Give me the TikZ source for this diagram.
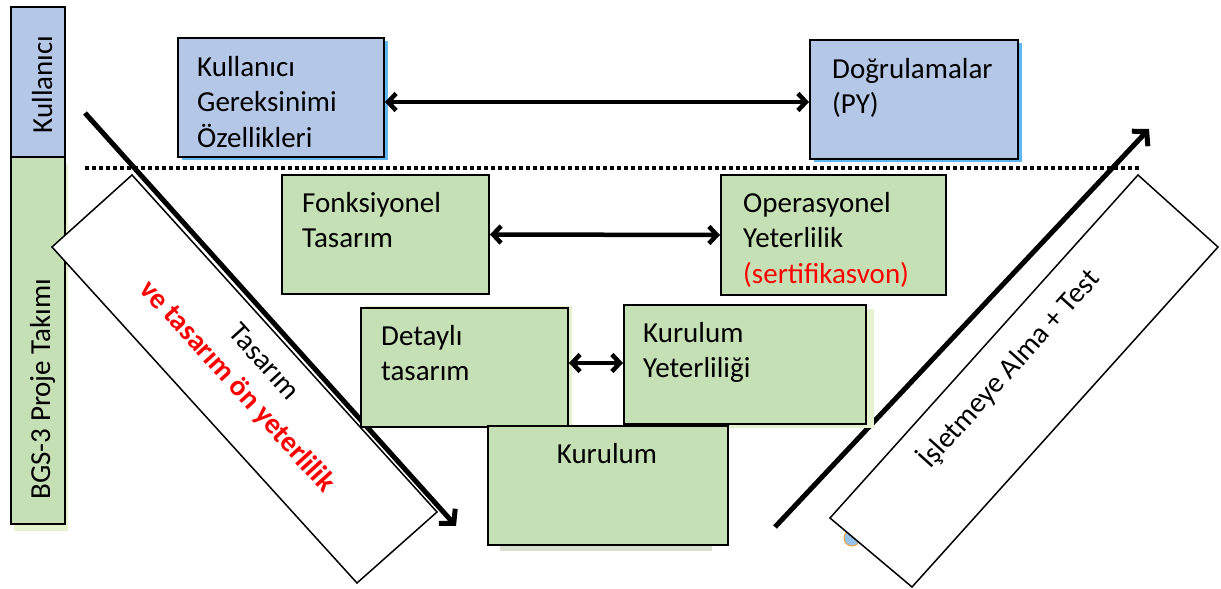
\documentclass[tikz,border=0pt]{standalone}
\usepackage{fontspec}
\setmainfont{Carlito}
\usetikzlibrary{arrows.meta,calc,shadows}
\definecolor{boxblue}{RGB}{180,199,231}
\definecolor{boxgreen}{RGB}{197,224,180}
\definecolor{shadeblue}{RGB}{96,182,240}
\definecolor{shadegreen}{RGB}{228,242,208}
\definecolor{shadegrey}{RGB}{214,222,206}
\begin{document}
\begin{tikzpicture}[x=1pt,y=-1pt,
  panel/.style={draw=black, line width=2pt, anchor=north west, inner sep=0pt},
  bluepanel/.style={panel, fill=boxblue,
    general shadow={fill=shadeblue, shadow xshift=4pt, shadow yshift=-3pt}},
  greenpanel/.style={panel, fill=boxgreen},
  bar/.style={draw=black, line width=2pt, anchor=north west, inner sep=0pt, minimum width=54pt},
  txt/.style={font=\fontsize{29}{35.5}\selectfont, inner sep=0pt, align=left, anchor=north west},
  sidetxt/.style={font=\fontsize{29}{35.5}\selectfont, inner sep=0pt, rotate=90, anchor=base},
  link/.style={line width=4.5pt,
    {Straight Barb[length=8pt,width=17pt,line width=4.5pt]}-{Straight Barb[length=8pt,width=17pt,line width=4.5pt]}},
  flow/.style={line width=5pt, -{Straight Barb[length=10pt,width=22pt,line width=5pt]}},
  band/.style={draw=black, line width=1.5pt, fill=white},
]
\useasboundingbox (0,0) rectangle (1221,589);

% side bars
\node[bar, fill=boxblue, minimum height=150pt] (userbar) at (10,6) {};
\node[bar, fill=boxgreen, minimum height=367pt,
  general shadow={fill=shadegreen, shadow xshift=3pt, shadow yshift=-7pt}] (teambar) at (10,156) {};
\node[sidetxt] (usertxt) at (52,84.5) {Kullanıcı};
\node[sidetxt] (teamtxt) at (50,389) {BGS-3 Proje Takımı};

% separator between user and team levels
\coordinate (sepL) at (85,168);
\coordinate (sepR) at (1140,168);
\draw[line width=4.5pt, dash pattern=on 4pt off 3pt] (sepL) -- (sepR);

% descending and ascending legs of the V
\coordinate (downS) at (85,113);
\coordinate (downE) at (456,526);
\coordinate (upS) at (775,527);
\coordinate (upE) at (1149,129);
\draw[flow] (downS) -- (downE);
\draw[flow] (upS) -- (upE);

% small marker partly hidden by the right band
\node[circle, fill={rgb,255:red,150;green,195;blue,235}, draw={rgb,255:red,240;green,160;blue,60},
  line width=1pt, minimum size=16pt, inner sep=0pt] (mark) at (852,538) {};

% slanted label bands
\draw[band] (52,247) -- (132,175) -- (437,512) -- (357,583) -- cycle;
\node[font=\fontsize{29}{36}\selectfont, align=center, rotate=-47.8, inner sep=0pt] (designtxt)
  at (249.7,375) {Tasarım\\\textcolor{red}{\bfseries ve tasarım ön yeterlilik}};
\draw[band] (830,518) -- (1138,175) -- (1218,247) -- (912,587) -- cycle;
\node[font=\fontsize{29}{36}\selectfont, rotate=48.1, inner sep=0pt] (testtxt)
  at (1008.6,368.5) {İşletmeye Alma + Test};

% user level
\node[bluepanel, minimum width=206pt, minimum height=119pt] (ugo) at (177,37) {};
\node[bluepanel, minimum width=208pt, minimum height=119pt] (dog) at (809,39) {};
\node[txt] (ugotxt) at (197,51.2) {\strut Kullanıcı\\Gereksinimi\\Özellikleri};
\node[txt] (dogtxt) at (832,53.2) {\strut Doğrulamalar\\(PY)};

% team level
\node[greenpanel, minimum width=207pt, minimum height=119pt] (fon) at (281,174) {};
\node[greenpanel, minimum width=225pt, minimum height=120pt] (ope) at (720,174) {};
\node[txt] (fontxt) at (302,187.2) {\strut Fonksiyonel\\Tasarım};
\node[txt] (opetxt) at (743,187.2) {\strut Operasyonel\\Yeterlilik\\\textcolor{red}{(sertifikasvon)}};

\node[greenpanel, minimum width=207pt, minimum height=119pt,
  general shadow={fill=shadegreen, shadow xshift=4pt, shadow yshift=2pt}] (det) at (360,307) {};
\node[greenpanel, minimum width=242pt, minimum height=119pt,
  general shadow={fill=shadegreen, shadow xshift=8pt, shadow yshift=-4pt}] (kye) at (623,304) {};
\node[txt] (dettxt) at (381,320.2) {\strut Detaylı\\tasarım};
\node[txt] (kyetxt) at (643,317.2) {\strut Kurulum\\Yeterliliği};

\fill[shadegrey] (500,544) rectangle (712,551);
\node[greenpanel, minimum width=240pt, minimum height=119pt] (kur) at (487,425) {};
\node[font=\fontsize{29}{35.5}\selectfont, inner sep=0pt, anchor=base] (kurtxt) at (607,463) {Kurulum};

% level links
\draw[link] (ugo.east |- 0,102) -- (dog.west |- 0,102);
\draw[link] (fon.east) -- (ope.west);
\draw[link] (det.east |- 0,363) -- (kye.west |- 0,363);
\end{tikzpicture}
\end{document}
